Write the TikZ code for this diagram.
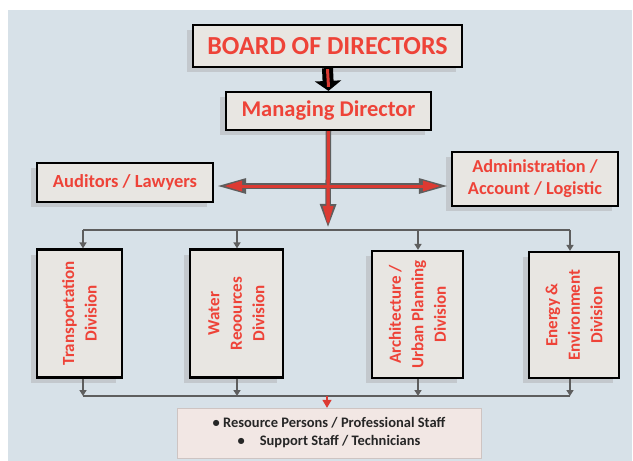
\documentclass[tikz,border=0pt]{standalone}
\usepackage{fontspec}
\setmainfont{Carlito}
\usetikzlibrary{arrows.meta}
\definecolor{bgcol}{HTML}{D7E1E8}
\definecolor{boxfill}{HTML}{E8E6E2}
\definecolor{shcol}{HTML}{C3C8CD}
\definecolor{txtred}{HTML}{EE4338}
\definecolor{lnred}{HTML}{DC3A32}
\definecolor{conn}{HTML}{5E5E5E}
\definecolor{pinkfill}{HTML}{F2E7E4}
\definecolor{darktxt}{HTML}{262626}
\tikzset{
  orgbox/.style={draw=black, line width=2.2pt, fill=boxfill, inner sep=0pt,
    font=\bfseries, text=txtred, align=center,
    preaction={draw=none, fill=shcol, transform canvas={xshift=-6pt, yshift=-5pt}}},
  divtext/.style={rotate=90, font=\bfseries\fontsize{17}{22.5}\selectfont, text=txtred, align=center, inner sep=0pt},
  gconn/.style={draw=conn, line width=1.8pt},
  garrow/.style={gconn, -{Triangle[length=6pt,width=7pt]}}
}
\begin{document}
\begin{tikzpicture}[x=1pt,y=-1pt]
\useasboundingbox (0,0) rectangle (633,461);
\fill[bgcol] (8,10) rectangle (632,461);

% top boxes
\node[orgbox, minimum width=269pt, minimum height=42pt, font=\bfseries\fontsize{26}{29}\selectfont] (bod) at (327.5,46) {BOARD OF DIRECTORS};
\node[orgbox, minimum width=205pt, minimum height=38pt, font=\bfseries\fontsize{22.5}{25}\selectfont] (md) at (328.5,111) {Managing Director};
\node[orgbox, minimum width=176pt, minimum height=39pt, font=\bfseries\fontsize{18.5}{21}\selectfont] (aud) at (125,182.5) {Auditors / Lawyers};
\node[orgbox, minimum width=166pt, minimum height=54pt, font=\bfseries\fontsize{18.3}{22}\selectfont] (adm) at (535,179) {Administration /\\Account / Logistic};

% division boxes
\node[orgbox, minimum width=85pt, minimum height=128pt] (tr) at (79.5,313.5) {};
\node[orgbox, minimum width=93pt, minimum height=128pt] (wr) at (236.5,313.5) {};
\node[orgbox, minimum width=91pt, minimum height=127pt] (ar) at (417.5,314.5) {};
\node[orgbox, minimum width=90pt, minimum height=126pt] (en) at (574,315) {};
\node[divtext] (trt) at (tr.center) {Transportation\\Division};
\node[divtext] (wrt) at (wr.center) {Water\\Reoources\\Division};
\node[divtext] (art) at (ar.center) {Architecture /\\Urban Planning\\Division};
\node[divtext] (ent) at (en.center) {Energy \&\\Environment\\Division};

% bottom box
\node[fill=pinkfill, draw=pinkfill!85!black, line width=0.3pt, minimum width=304pt, minimum height=50pt, inner sep=0pt,
  font=\bfseries\fontsize{14.5}{18}\selectfont, text=darktxt, align=center] (staff) at (329,433)
  {\textbullet\ Resource Persons / Professional Staff\\\textbullet\hspace{15pt}Support Staff / Technicians};

% black arrow board -> managing
\draw[black, line width=11pt, -{Triangle[length=10pt,width=26pt]}] (bod.south) -- (md.north);
\draw[lnred, line width=3pt] ([yshift=-1pt]bod.south) -- ([yshift=4pt]md.north);

% red cross arrows
\coordinate (hc) at (328,186);
\coordinate (vtip) at (328,228);
\draw[conn, line width=5.5pt, -{Triangle[length=24pt,width=15pt]}] (md.south) -- (vtip);
\draw[lnred, line width=3pt, -{Triangle[length=19pt,width=10pt]}] (md.south) -- ([yshift=3pt]vtip);
\draw[conn, line width=5.5pt, -{Triangle[length=30pt,width=14pt]}] (hc) -- ([xshift=-2pt]hc -| adm.west);
\draw[conn, line width=5.5pt, -{Triangle[length=30pt,width=14pt]}] (hc) -- ([xshift=2pt]hc -| aud.east);
\draw[lnred, line width=3pt, -{Triangle[length=18pt,width=10pt]}] (hc) -- ([xshift=-10pt]hc -| adm.west);
\draw[lnred, line width=3pt, -{Triangle[length=18pt,width=10pt]}] (hc) -- ([xshift=10pt]hc -| aud.east);
\draw[lnred, line width=3pt] (md.south) -- ([yshift=6pt]vtip);

% top bus
\coordinate (b1) at (83,230);
\coordinate (b2) at (237,230);
\coordinate (b3) at (418,230);
\coordinate (b4) at (570,230);
\draw[gconn] (b1) -- (b4);
\draw[garrow] (b1) -- (b1 |- tr.north);
\draw[garrow] (b2) -- (b2 |- wr.north);
\draw[garrow] (b3) -- (b3 |- ar.north);
\draw[garrow] (b4) -- (b4 |- en.north);

% bottom bus
\coordinate (c1) at (83,396);
\coordinate (c2) at (237,396);
\coordinate (c3) at (418,396);
\coordinate (c4) at (570,396);
\coordinate (cm) at (327,396);
\draw[gconn] (c1) -- (c4);
\draw[garrow] (c1 |- tr.south) -- (c1);
\draw[garrow] (c2 |- wr.south) -- (c2);
\draw[garrow] (c3 |- ar.south) -- (c3);
\draw[garrow] (c4 |- en.south) -- (c4);
\draw[lnred, line width=1.5pt, -{Triangle[length=8pt,width=9pt]}] (cm) -- (cm |- staff.north);
\end{tikzpicture}
\end{document}
